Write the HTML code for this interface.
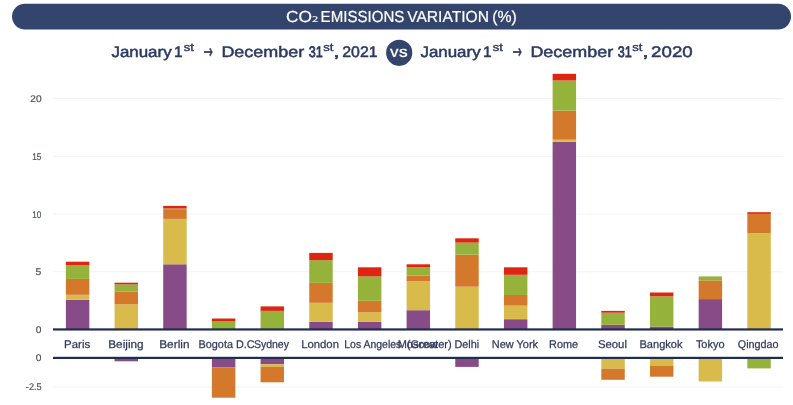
<!DOCTYPE html>
<html lang="en"><head><meta charset="utf-8"><title>CO2 Emissions Variation</title>
<style>html,body{margin:0;padding:0;background:#fff;overflow:hidden}svg{display:block}text{font-family:"Liberation Sans",sans-serif;text-rendering:geometricPrecision}</style></head><body>
<svg width="793" height="405" viewBox="0 0 793 405">
<rect width="793" height="405" fill="#fff"/>
<rect x="12" y="3.65" width="779" height="25.8" rx="12.9" fill="#33456d"/>
<circle cx="399.2" cy="52.8" r="13.1" fill="#33456d"/>
<rect x="53.0" y="271.25" width="730.0" height="1" fill="#f3f3f3"/>
<rect x="53.0" y="213.55" width="730.0" height="1" fill="#f3f3f3"/>
<rect x="53.0" y="155.85" width="730.0" height="1" fill="#f3f3f3"/>
<rect x="53.0" y="98.15" width="730.0" height="1" fill="#f3f3f3"/>
<rect x="53.0" y="386.50" width="730.0" height="1" fill="#f3f3f3"/>
<rect x="65.88" y="299.80" width="23.45" height="29.65" fill="#874b87"/>
<rect x="65.88" y="294.80" width="23.45" height="5.00" fill="#d8bb4a"/>
<rect x="65.88" y="278.90" width="23.45" height="15.90" fill="#d4782b"/>
<rect x="65.88" y="265.00" width="23.45" height="13.90" fill="#95b23a"/>
<rect x="65.88" y="261.70" width="23.45" height="3.30" fill="#dc2612"/>
<rect x="114.55" y="304.40" width="23.45" height="25.05" fill="#d8bb4a"/>
<rect x="114.55" y="291.70" width="23.45" height="12.70" fill="#d4782b"/>
<rect x="114.55" y="284.40" width="23.45" height="7.30" fill="#95b23a"/>
<rect x="114.55" y="282.70" width="23.45" height="1.70" fill="#dc2612"/>
<rect x="114.55" y="357.90" width="23.45" height="3.40" fill="#874b87"/>
<rect x="163.22" y="264.30" width="23.45" height="65.15" fill="#874b87"/>
<rect x="163.22" y="218.90" width="23.45" height="45.40" fill="#d8bb4a"/>
<rect x="163.22" y="210.00" width="23.45" height="8.90" fill="#d4782b"/>
<rect x="163.22" y="208.50" width="23.45" height="1.50" fill="#95b23a"/>
<rect x="163.22" y="205.90" width="23.45" height="2.60" fill="#dc2612"/>
<rect x="211.90" y="321.50" width="23.45" height="7.95" fill="#95b23a"/>
<rect x="211.90" y="318.50" width="23.45" height="3.00" fill="#dc2612"/>
<rect x="211.90" y="357.90" width="23.45" height="9.30" fill="#874b87"/>
<rect x="211.90" y="367.20" width="23.45" height="30.50" fill="#d4782b"/>
<rect x="260.57" y="310.90" width="23.45" height="18.55" fill="#95b23a"/>
<rect x="260.57" y="306.40" width="23.45" height="4.50" fill="#dc2612"/>
<rect x="260.57" y="357.90" width="23.45" height="6.20" fill="#874b87"/>
<rect x="260.57" y="364.10" width="23.45" height="2.50" fill="#d8bb4a"/>
<rect x="260.57" y="366.60" width="23.45" height="15.70" fill="#d4782b"/>
<rect x="309.25" y="321.80" width="23.45" height="7.65" fill="#874b87"/>
<rect x="309.25" y="302.80" width="23.45" height="19.00" fill="#d8bb4a"/>
<rect x="309.25" y="282.90" width="23.45" height="19.90" fill="#d4782b"/>
<rect x="309.25" y="260.20" width="23.45" height="22.70" fill="#95b23a"/>
<rect x="309.25" y="252.90" width="23.45" height="7.30" fill="#dc2612"/>
<rect x="357.92" y="321.80" width="23.45" height="7.65" fill="#874b87"/>
<rect x="357.92" y="312.40" width="23.45" height="9.40" fill="#d8bb4a"/>
<rect x="357.92" y="300.80" width="23.45" height="11.60" fill="#d4782b"/>
<rect x="357.92" y="276.40" width="23.45" height="24.40" fill="#95b23a"/>
<rect x="357.92" y="267.30" width="23.45" height="9.10" fill="#dc2612"/>
<rect x="406.60" y="310.20" width="23.45" height="19.25" fill="#874b87"/>
<rect x="406.60" y="281.20" width="23.45" height="29.00" fill="#d8bb4a"/>
<rect x="406.60" y="275.60" width="23.45" height="5.60" fill="#d4782b"/>
<rect x="406.60" y="267.30" width="23.45" height="8.30" fill="#95b23a"/>
<rect x="406.60" y="264.30" width="23.45" height="3.00" fill="#dc2612"/>
<rect x="455.27" y="286.70" width="23.45" height="42.75" fill="#d8bb4a"/>
<rect x="455.27" y="254.70" width="23.45" height="32.00" fill="#d4782b"/>
<rect x="455.27" y="242.60" width="23.45" height="12.10" fill="#95b23a"/>
<rect x="455.27" y="238.30" width="23.45" height="4.30" fill="#dc2612"/>
<rect x="455.27" y="357.90" width="23.45" height="9.00" fill="#874b87"/>
<rect x="503.95" y="319.20" width="23.45" height="10.25" fill="#874b87"/>
<rect x="503.95" y="305.60" width="23.45" height="13.60" fill="#d8bb4a"/>
<rect x="503.95" y="295.00" width="23.45" height="10.60" fill="#d4782b"/>
<rect x="503.95" y="274.80" width="23.45" height="20.20" fill="#95b23a"/>
<rect x="503.95" y="267.30" width="23.45" height="7.50" fill="#dc2612"/>
<rect x="552.62" y="141.80" width="23.45" height="187.65" fill="#874b87"/>
<rect x="552.62" y="139.70" width="23.45" height="2.10" fill="#d8bb4a"/>
<rect x="552.62" y="110.60" width="23.45" height="29.10" fill="#d4782b"/>
<rect x="552.62" y="80.50" width="23.45" height="30.10" fill="#95b23a"/>
<rect x="552.62" y="73.80" width="23.45" height="6.70" fill="#dc2612"/>
<rect x="601.30" y="324.80" width="23.45" height="4.65" fill="#874b87"/>
<rect x="601.30" y="312.70" width="23.45" height="12.10" fill="#95b23a"/>
<rect x="601.30" y="310.90" width="23.45" height="1.80" fill="#dc2612"/>
<rect x="601.30" y="357.90" width="23.45" height="10.80" fill="#d8bb4a"/>
<rect x="601.30" y="368.70" width="23.45" height="11.10" fill="#d4782b"/>
<rect x="649.97" y="326.60" width="23.45" height="2.85" fill="#874b87"/>
<rect x="649.97" y="296.30" width="23.45" height="30.30" fill="#95b23a"/>
<rect x="649.97" y="292.50" width="23.45" height="3.80" fill="#dc2612"/>
<rect x="649.97" y="357.90" width="23.45" height="7.70" fill="#d8bb4a"/>
<rect x="649.97" y="365.60" width="23.45" height="11.10" fill="#d4782b"/>
<rect x="698.65" y="299.10" width="23.45" height="30.35" fill="#874b87"/>
<rect x="698.65" y="280.40" width="23.45" height="18.70" fill="#d4782b"/>
<rect x="698.65" y="276.40" width="23.45" height="4.00" fill="#95b23a"/>
<rect x="698.65" y="357.90" width="23.45" height="23.60" fill="#d8bb4a"/>
<rect x="747.32" y="233.00" width="23.45" height="96.45" fill="#d8bb4a"/>
<rect x="747.32" y="213.90" width="23.45" height="19.10" fill="#d4782b"/>
<rect x="747.32" y="212.20" width="23.45" height="1.70" fill="#dc2612"/>
<rect x="747.32" y="357.90" width="23.45" height="10.50" fill="#95b23a"/>
<rect x="53.0" y="328.35" width="730.0" height="2.2" fill="#1f2d52"/>
<rect x="53.0" y="356.80" width="730.0" height="2.2" fill="#1f2d52"/>
<text x="285.93" y="22.00" font-size="16.0" fill="#fff" stroke="#fff" stroke-width="0.2" textLength="25.97" lengthAdjust="spacingAndGlyphs">CO</text>
<text x="311.68" y="22.30" font-size="14" fill="#fff" style="font-family:'DejaVu Sans',sans-serif" textLength="7.12" lengthAdjust="spacingAndGlyphs">₂</text>
<text x="320.61" y="22.00" font-size="16.0" fill="#fff" stroke="#fff" stroke-width="0.2" textLength="83.77" lengthAdjust="spacingAndGlyphs">EMISSIONS</text>
<text x="407.17" y="22.00" font-size="16.0" fill="#fff" stroke="#fff" stroke-width="0.2" textLength="81.74" lengthAdjust="spacingAndGlyphs">VARIATION</text>
<text x="492.22" y="22.00" font-size="16.0" fill="#fff" stroke="#fff" stroke-width="0.2" textLength="24.61" lengthAdjust="spacingAndGlyphs">(%)</text>
<text x="111.45" y="57.00" font-size="15.3" fill="#2c3a60" stroke="#2c3a60" stroke-width="0.5" textLength="60.18" lengthAdjust="spacingAndGlyphs">January</text>
<text x="173.96" y="57.00" font-size="15.3" fill="#2c3a60" stroke="#2c3a60" stroke-width="0.5" textLength="8.62" lengthAdjust="spacingAndGlyphs">1</text>
<text x="183.82" y="51.00" font-size="11.2" fill="#2c3a60" stroke="#2c3a60" stroke-width="0.4" textLength="10.19" lengthAdjust="spacingAndGlyphs">st</text>
<text x="203.39" y="58.00" font-size="19" fill="#2c3a60" style="font-family:'DejaVu Sans',sans-serif" stroke="#2c3a60" stroke-width="0.5" textLength="9.37" lengthAdjust="spacingAndGlyphs">→</text>
<text x="221.41" y="57.00" font-size="15.3" fill="#2c3a60" stroke="#2c3a60" stroke-width="0.5" textLength="82.81" lengthAdjust="spacingAndGlyphs">December</text>
<text x="308.66" y="57.00" font-size="15.3" fill="#2c3a60" stroke="#2c3a60" stroke-width="0.75" textLength="14.06" lengthAdjust="spacingAndGlyphs">31</text>
<text x="323.37" y="51.00" font-size="11.2" fill="#2c3a60" stroke="#2c3a60" stroke-width="0.4" textLength="10.12" lengthAdjust="spacingAndGlyphs">st</text>
<text x="333.20" y="57.00" font-size="15.3" fill="#2c3a60" stroke="#2c3a60" stroke-width="0.5" textLength="6.39" lengthAdjust="spacingAndGlyphs">,</text>
<text x="342.24" y="57.00" font-size="15.3" fill="#2c3a60" stroke="#2c3a60" stroke-width="0.5" textLength="35.36" lengthAdjust="spacingAndGlyphs">2021</text>
<text x="420.45" y="57.00" font-size="15.3" fill="#2c3a60" stroke="#2c3a60" stroke-width="0.5" textLength="60.18" lengthAdjust="spacingAndGlyphs">January</text>
<text x="482.96" y="57.00" font-size="15.3" fill="#2c3a60" stroke="#2c3a60" stroke-width="0.5" textLength="8.62" lengthAdjust="spacingAndGlyphs">1</text>
<text x="492.82" y="51.00" font-size="11.2" fill="#2c3a60" stroke="#2c3a60" stroke-width="0.4" textLength="10.19" lengthAdjust="spacingAndGlyphs">st</text>
<text x="512.39" y="58.00" font-size="19" fill="#2c3a60" style="font-family:'DejaVu Sans',sans-serif" stroke="#2c3a60" stroke-width="0.5" textLength="9.37" lengthAdjust="spacingAndGlyphs">→</text>
<text x="530.41" y="57.00" font-size="15.3" fill="#2c3a60" stroke="#2c3a60" stroke-width="0.5" textLength="82.81" lengthAdjust="spacingAndGlyphs">December</text>
<text x="617.66" y="57.00" font-size="15.3" fill="#2c3a60" stroke="#2c3a60" stroke-width="0.75" textLength="14.06" lengthAdjust="spacingAndGlyphs">31</text>
<text x="632.37" y="51.00" font-size="11.2" fill="#2c3a60" stroke="#2c3a60" stroke-width="0.4" textLength="10.12" lengthAdjust="spacingAndGlyphs">st</text>
<text x="642.20" y="57.00" font-size="15.3" fill="#2c3a60" stroke="#2c3a60" stroke-width="0.5" textLength="6.39" lengthAdjust="spacingAndGlyphs">,</text>
<text x="651.11" y="57.00" font-size="15.3" fill="#2c3a60" stroke="#2c3a60" stroke-width="0.5" textLength="41.54" lengthAdjust="spacingAndGlyphs">2020</text>
<text x="389.81" y="57.00" font-size="12.0" fill="#fff" font-weight="bold" textLength="18.01" lengthAdjust="spacingAndGlyphs">VS</text>
<text x="30.32" y="102.00" font-size="9.7" fill="#4d525e" stroke="#4d525e" stroke-width="0.2" textLength="11.24" lengthAdjust="spacingAndGlyphs">20</text>
<text x="32.35" y="160.00" font-size="9.7" fill="#4d525e" stroke="#4d525e" stroke-width="0.2" textLength="9.06" lengthAdjust="spacingAndGlyphs">15</text>
<text x="32.20" y="218.00" font-size="9.7" fill="#4d525e" stroke="#4d525e" stroke-width="0.2" textLength="8.97" lengthAdjust="spacingAndGlyphs">10</text>
<text x="35.61" y="275.00" font-size="9.7" fill="#4d525e" stroke="#4d525e" stroke-width="0.2" textLength="5.77" lengthAdjust="spacingAndGlyphs">5</text>
<text x="35.84" y="333.00" font-size="9.7" fill="#4d525e" stroke="#4d525e" stroke-width="0.2" textLength="5.66" lengthAdjust="spacingAndGlyphs">0</text>
<text x="35.84" y="361.00" font-size="9.7" fill="#4d525e" stroke="#4d525e" stroke-width="0.2" textLength="5.66" lengthAdjust="spacingAndGlyphs">0</text>
<text x="25.87" y="390.00" font-size="9.7" fill="#4d525e" stroke="#4d525e" stroke-width="0.2" textLength="15.68" lengthAdjust="spacingAndGlyphs">-2.5</text>
<text x="64.14" y="348.00" font-size="11.2" fill="#303b5c" stroke="#303b5c" stroke-width="0.25" textLength="26.03" lengthAdjust="spacingAndGlyphs">Paris</text>
<text x="108.22" y="348.00" font-size="11.2" fill="#303b5c" stroke="#303b5c" stroke-width="0.25" textLength="35.40" lengthAdjust="spacingAndGlyphs">Beijing</text>
<text x="159.23" y="348.00" font-size="11.2" fill="#303b5c" stroke="#303b5c" stroke-width="0.25" textLength="30.27" lengthAdjust="spacingAndGlyphs">Berlin</text>
<text x="198.54" y="348.00" font-size="11.2" fill="#303b5c" stroke="#303b5c" stroke-width="0.25" textLength="56.13" lengthAdjust="spacingAndGlyphs">Bogota D.C</text>
<text x="253.88" y="348.00" font-size="11.2" fill="#303b5c" stroke="#303b5c" stroke-width="0.25" textLength="35.11" lengthAdjust="spacingAndGlyphs">Sydney</text>
<text x="301.17" y="348.00" font-size="11.2" fill="#303b5c" stroke="#303b5c" stroke-width="0.25" textLength="37.79" lengthAdjust="spacingAndGlyphs">London</text>
<text x="344.27" y="348.00" font-size="11.2" fill="#303b5c" stroke="#303b5c" stroke-width="0.25" textLength="57.07" lengthAdjust="spacingAndGlyphs">Los Angeles</text>
<text x="406.69" y="348.00" font-size="11.2" fill="#303b5c" stroke="#303b5c" stroke-width="0.25" textLength="45.06" lengthAdjust="spacingAndGlyphs">(Greater)</text>
<text x="397.78" y="348.00" font-size="11.2" fill="#303b5c" stroke="#303b5c" stroke-width="0.25" textLength="40.29" lengthAdjust="spacingAndGlyphs">Moscow</text>
<text x="454.45" y="348.00" font-size="11.2" fill="#303b5c" stroke="#303b5c" stroke-width="0.25" textLength="24.78" lengthAdjust="spacingAndGlyphs">Delhi</text>
<text x="491.79" y="348.00" font-size="11.2" fill="#303b5c" stroke="#303b5c" stroke-width="0.25" textLength="46.28" lengthAdjust="spacingAndGlyphs">New York</text>
<text x="549.09" y="348.00" font-size="11.2" fill="#303b5c" stroke="#303b5c" stroke-width="0.25" textLength="29.04" lengthAdjust="spacingAndGlyphs">Rome</text>
<text x="597.92" y="348.00" font-size="11.2" fill="#303b5c" stroke="#303b5c" stroke-width="0.25" textLength="29.06" lengthAdjust="spacingAndGlyphs">Seoul</text>
<text x="639.49" y="348.00" font-size="11.2" fill="#303b5c" stroke="#303b5c" stroke-width="0.25" textLength="43.00" lengthAdjust="spacingAndGlyphs">Bangkok</text>
<text x="695.89" y="348.00" font-size="11.2" fill="#303b5c" stroke="#303b5c" stroke-width="0.25" textLength="28.73" lengthAdjust="spacingAndGlyphs">Tokyo</text>
<text x="737.75" y="348.00" font-size="11.2" fill="#303b5c" stroke="#303b5c" stroke-width="0.25" textLength="40.79" lengthAdjust="spacingAndGlyphs">Qingdao</text>
</svg></body></html>
